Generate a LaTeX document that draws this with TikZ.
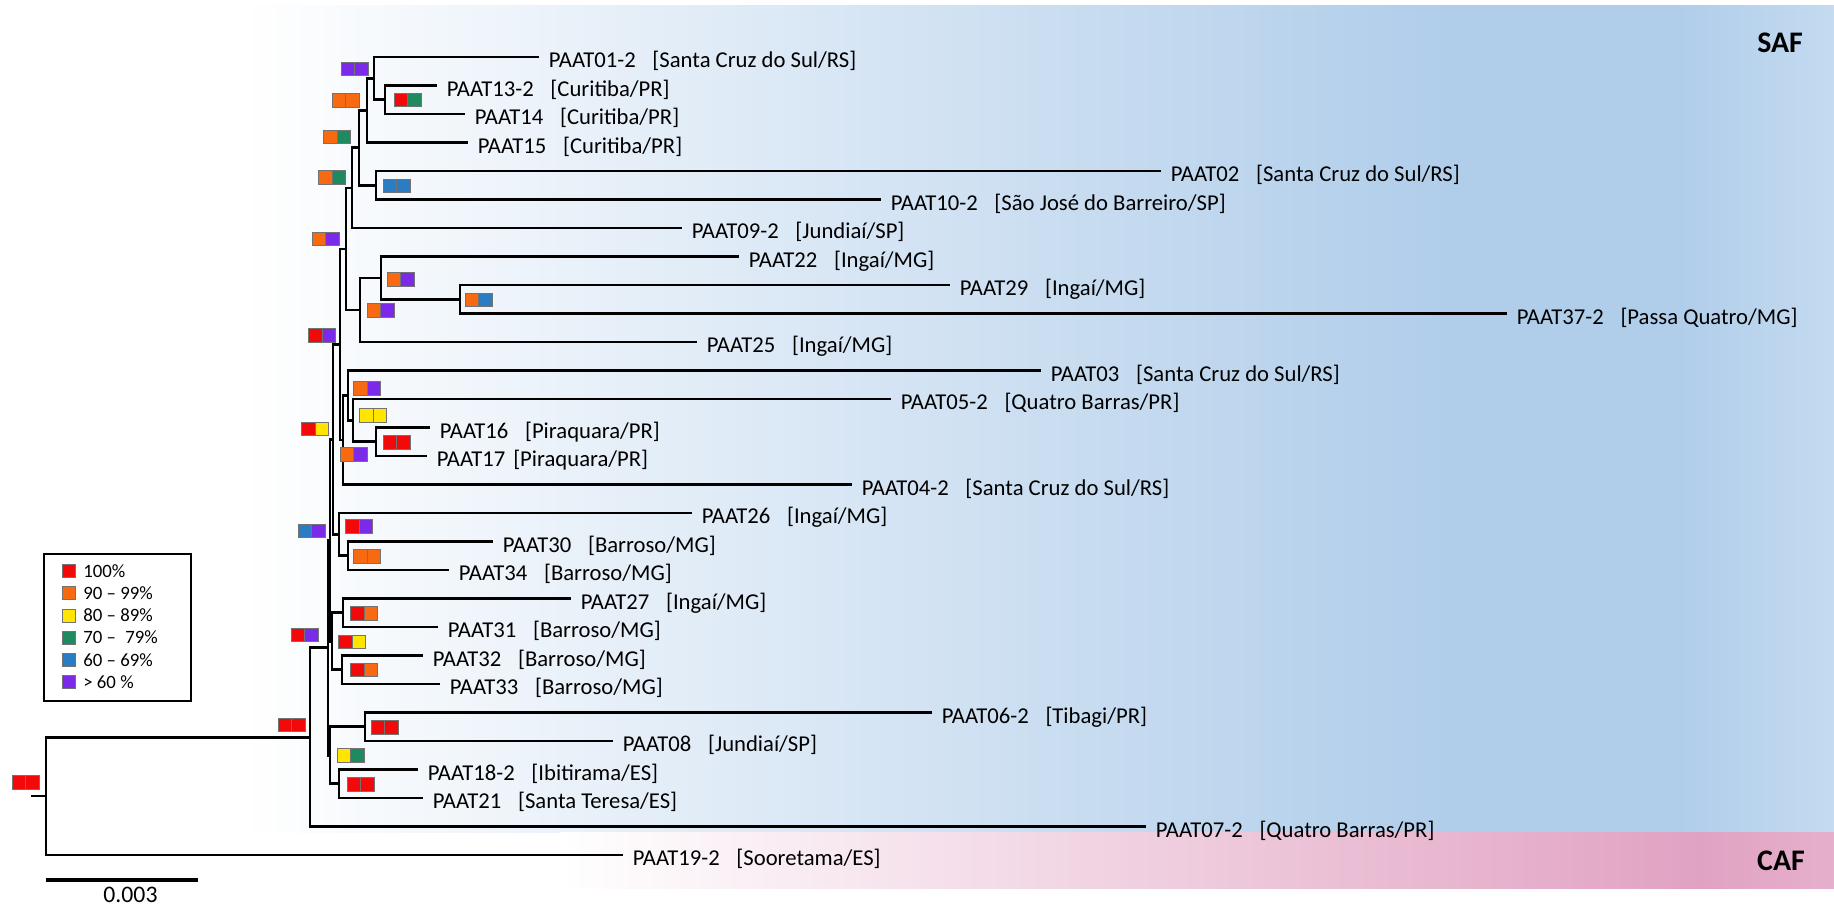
\documentclass[tikz,border=0pt]{standalone}
\usepackage{fontspec}
\setmainfont{Carlito}

\definecolor{safblue}{HTML}{B0CDEA}
\definecolor{saflight}{HTML}{C4DBF0}
\definecolor{cafpink}{HTML}{E1A2C2}
\definecolor{bred}{HTML}{F20A0A}
\definecolor{borange}{HTML}{F86A12}
\definecolor{byellow}{HTML}{FFE500}
\definecolor{bgreen}{HTML}{1F8A60}
\definecolor{bblue}{HTML}{2B7DC3}
\definecolor{bpurple}{HTML}{7A2AE8}

\tikzset{
  brline/.style={line width=1.6pt},
  leaf/.style={anchor=west, inner xsep=5.4pt, inner ysep=0pt, text height=12pt, text depth=0pt, font=\fontsize{12.9}{15}\selectfont},
  bsq/.style={draw=black!55, line width=0.35pt},
  legtext/.style={anchor=west, inner sep=0pt, font=\fontsize{10.7}{12}\selectfont},
}

\newcommand{\gp}{\hspace{9.5pt}}
\newcommand{\bootbox}[4]{%
  \filldraw[bsq, fill=#3] ({#1-13.5}, {#2-6.75}) rectangle (#1, {#2+6.75});
  \filldraw[bsq, fill=#4] (#1, {#2-6.75}) rectangle ({#1+13.5}, {#2+6.75});
}

\begin{document}
\begin{tikzpicture}[x=0.02cm, y=-0.02cm]
\useasboundingbox (0,0) rectangle (1834,907);

\shade[left color=white, right color=safblue] (240,5) rectangle (1450,832);
\fill[safblue] (1449,5) rectangle (1680,832);
\shade[left color=safblue, right color=saflight] (1679,5) rectangle (1834,832);

\shade[left color=white, right color=cafpink] (560,832) rectangle (1700,888);
\shade[left color=cafpink, right color=cafpink!85!white] (1699,832) rectangle (1834,888);

\node[anchor=east, font=\fontsize{17}{20}\selectfont\bfseries] (saflab) at (1809,43) {SAF};
\node[anchor=east, font=\fontsize{17}{20}\selectfont\bfseries] (caflab) at (1811,861) {CAF};

\node[leaf] (t01) at (539, 57) {PAAT01-2\gp[Santa Cruz do Sul/RS]};
\node[leaf] (t13) at (437, 85.5) {PAAT13-2\gp[Curitiba/PR]};
\node[leaf] (t14) at (465, 114) {PAAT14\gp[Curitiba/PR]};
\node[leaf] (t15) at (468, 142.5) {PAAT15\gp[Curitiba/PR]};
\node[leaf] (t02) at (1161, 171) {PAAT02\gp[Santa Cruz do Sul/RS]};
\node[leaf] (t10) at (881, 199.5) {PAAT10-2\gp[São José do Barreiro/SP]};
\node[leaf] (t09) at (682, 228) {PAAT09-2\gp[Jundiaí/SP]};
\node[leaf] (t22) at (739, 256.5) {PAAT22\gp[Ingaí/MG]};
\node[leaf] (t29) at (950, 285) {PAAT29\gp[Ingaí/MG]};
\node[leaf] (t37) at (1507, 313.5) {PAAT37-2\gp[Passa Quatro/MG]};
\node[leaf] (t25) at (697, 342) {PAAT25\gp[Ingaí/MG]};
\node[leaf] (t03) at (1041, 370.5) {PAAT03\gp[Santa Cruz do Sul/RS]};
\node[leaf] (t05) at (891, 399) {PAAT05-2\gp[Quatro Barras/PR]};
\node[leaf] (t16) at (430, 427.5) {PAAT16\gp[Piraquara/PR]};
\node[leaf] (t17) at (427, 456) {PAAT17\hspace{4.5pt}[Piraquara/PR]};
\node[leaf] (t04) at (852, 484.5) {PAAT04-2\gp[Santa Cruz do Sul/RS]};
\node[leaf] (t26) at (692, 513) {PAAT26\gp[Ingaí/MG]};
\node[leaf] (t30) at (493, 541.5) {PAAT30\gp[Barroso/MG]};
\node[leaf] (t34) at (449, 570) {PAAT34\gp[Barroso/MG]};
\node[leaf] (t27) at (571, 598.5) {PAAT27\gp[Ingaí/MG]};
\node[leaf] (t31) at (438, 627) {PAAT31\gp[Barroso/MG]};
\node[leaf] (t32) at (423, 655.5) {PAAT32\gp[Barroso/MG]};
\node[leaf] (t33) at (440, 684) {PAAT33\gp[Barroso/MG]};
\node[leaf] (t06) at (932, 712.5) {PAAT06-2\gp[Tibagi/PR]};
\node[leaf] (t08) at (613, 741) {PAAT08\gp[Jundiaí/SP]};
\node[leaf] (t18) at (418, 769.5) {PAAT18-2\gp[Ibitirama/ES]};
\node[leaf] (t21) at (423, 798) {PAAT21\gp[Santa Teresa/ES]};
\node[leaf] (t07) at (1146, 826.5) {PAAT07-2\gp[Quatro Barras/PR]};
\node[leaf] (t19) at (623, 855) {PAAT19-2\gp[Sooretama/ES]};

\coordinate (nstub) at (31, 796);
\coordinate (nroot) at (46, 796);
\coordinate (nsaf) at (310, 737.1);
\coordinate (nA) at (328, 647.8);
\coordinate (nM) at (330, 755.25);
\coordinate (nP) at (365, 726.75);
\coordinate (nQ) at (339, 783.75);
\coordinate (nL) at (330, 540.3);
\coordinate (nR) at (332, 641.25);
\coordinate (nZa) at (343, 612.75);
\coordinate (nZb) at (342, 669.75);
\coordinate (nK) at (333, 439.4);
\coordinate (nS) at (339, 534.4);
\coordinate (nY) at (348, 555.75);
\coordinate (nJ) at (340, 344.5);
\coordinate (nT) at (343, 440);
\coordinate (nU) at (348, 395.4);
\coordinate (nV) at (353, 420.4);
\coordinate (nW) at (376, 441.75);
\coordinate (nF) at (346, 248.9);
\coordinate (nG) at (360, 309.9);
\coordinate (nH) at (381, 277.9);
\coordinate (nI) at (460, 299.25);
\coordinate (nE) at (352, 187.9);
\coordinate (nC) at (359, 147.8);
\coordinate (nD) at (376, 185.25);
\coordinate (nB) at (367, 110.4);
\coordinate (nX) at (374, 78.4);
\coordinate (nCu) at (385, 99.75);

\draw[brline] (nstub) -- (nroot);
\draw[brline] (nroot) |- (nsaf);
\draw[brline] (nroot) |- (t19.west);
\draw[brline] (nsaf) |- (nA);
\draw[brline] (nsaf) |- (t07.west);
\draw[brline] (nA) |- (nL);
\draw[brline] (nA) |- (nM);
\draw[brline] (nM) |- (nP);
\draw[brline] (nM) |- (nQ);
\draw[brline] (nP) |- (t06.west);
\draw[brline] (nP) |- (t08.west);
\draw[brline] (nQ) |- (t18.west);
\draw[brline] (nQ) |- (t21.west);
\draw[brline] (nL) |- (nK);
\draw[brline] (nL) |- (nR);
\draw[brline] (nR) |- (nZa);
\draw[brline] (nR) |- (nZb);
\draw[brline] (nZa) |- (t27.west);
\draw[brline] (nZa) |- (t31.west);
\draw[brline] (nZb) |- (t32.west);
\draw[brline] (nZb) |- (t33.west);
\draw[brline] (nK) |- (nJ);
\draw[brline] (nK) |- (nS);
\draw[brline] (nS) |- (t26.west);
\draw[brline] (nS) |- (nY);
\draw[brline] (nY) |- (t30.west);
\draw[brline] (nY) |- (t34.west);
\draw[brline] (nJ) |- (nF);
\draw[brline] (nJ) |- (nT);
\draw[brline] (nT) |- (nU);
\draw[brline] (nT) |- (t04.west);
\draw[brline] (nU) |- (t03.west);
\draw[brline] (nU) |- (nV);
\draw[brline] (nV) |- (t05.west);
\draw[brline] (nV) |- (nW);
\draw[brline] (nW) |- (t16.west);
\draw[brline] (nW) |- (t17.west);
\draw[brline] (nF) |- (nE);
\draw[brline] (nF) |- (nG);
\draw[brline] (nG) |- (nH);
\draw[brline] (nG) |- (t25.west);
\draw[brline] (nH) |- (t22.west);
\draw[brline] (nH) |- (nI);
\draw[brline] (nI) |- (t29.west);
\draw[brline] (nI) |- (t37.west);
\draw[brline] (nE) |- (nC);
\draw[brline] (nE) |- (t09.west);
\draw[brline] (nC) |- (nB);
\draw[brline] (nC) |- (nD);
\draw[brline] (nD) |- (t02.west);
\draw[brline] (nD) |- (t10.west);
\draw[brline] (nB) |- (nX);
\draw[brline] (nB) |- (t15.west);
\draw[brline] (nX) |- (t01.west);
\draw[brline] (nX) |- (nCu);
\draw[brline] (nCu) |- (t13.west);
\draw[brline] (nCu) |- (t14.west);

\bootbox{25.5}{782.5}{bred}{bred}
\bootbox{291.5}{725}{bred}{bred}
\bootbox{304.5}{635}{bred}{bpurple}
\bootbox{350.5}{755.5}{byellow}{bgreen}
\bootbox{384.5}{727.5}{bred}{bred}
\bootbox{360.5}{784.5}{bred}{bred}
\bootbox{311.5}{531}{bblue}{bpurple}
\bootbox{352}{642}{bred}{byellow}
\bootbox{364}{613.5}{bred}{borange}
\bootbox{364}{670}{bred}{borange}
\bootbox{315}{429}{bred}{byellow}
\bootbox{359}{526.5}{bred}{bpurple}
\bootbox{367}{556.5}{borange}{borange}
\bootbox{322}{335.5}{bred}{bpurple}
\bootbox{353.5}{454.5}{borange}{bpurple}
\bootbox{367}{388.5}{borange}{bpurple}
\bootbox{373}{415.5}{byellow}{byellow}
\bootbox{396.5}{442.5}{bred}{bred}
\bootbox{325.5}{239}{borange}{bpurple}
\bootbox{380.5}{310.5}{borange}{bpurple}
\bootbox{400.5}{279.5}{borange}{bpurple}
\bootbox{478.5}{300}{borange}{bblue}
\bootbox{332}{177.5}{borange}{bgreen}
\bootbox{337}{137}{borange}{bgreen}
\bootbox{396.5}{186}{bblue}{bblue}
\bootbox{345.5}{100.5}{borange}{borange}
\bootbox{354.5}{69}{bpurple}{bpurple}
\bootbox{407.5}{100}{bred}{bgreen}

\draw[line width=1pt] (44,554) rectangle (191,701);
\foreach \c/\t [count=\i from 0] in {bred/100\%, borange/90 -- 99\%, byellow/80 -- 89\%, bgreen/70 --\hspace{0.5em}79\%, bblue/60 -- 69\%, bpurple/> 60 \%}
{
  \filldraw[bsq, fill=\c] (62,{564.5+22.2*\i}) rectangle ++(13,13);
  \node[legtext] (lg\i) at (83,{571+22.2*\i}) {\t};
}

\coordinate (sbl) at (46,880);
\coordinate (sbr) at (198,880);
\draw[line width=2pt] (sbl) -- (sbr);
\node[inner sep=0pt, font=\fontsize{13.5}{15}\selectfont] (sbtext) at (130.5,894.5) {0.003};
\end{tikzpicture}
\end{document}
